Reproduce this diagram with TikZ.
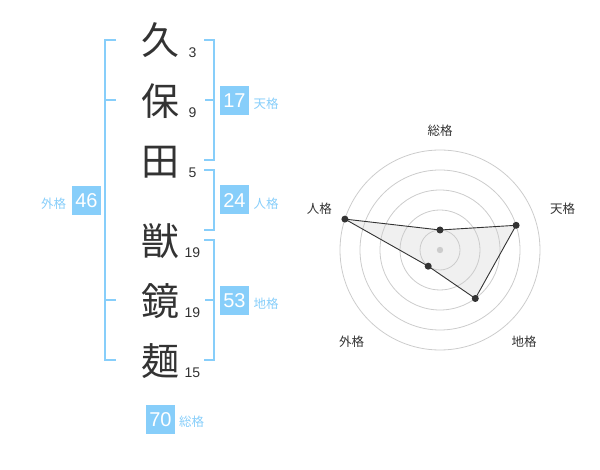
\documentclass[tikz,border=0pt]{standalone}
\usepackage{fontspec}
\setmainfont{Liberation Sans}
\newfontfamily\cjk{Noto Sans CJK JP}
\definecolor{sky}{HTML}{87CEFA}
\definecolor{ink}{HTML}{333333}
\definecolor{ring}{HTML}{CCCCCC}
\definecolor{area}{HTML}{F0F0F0}
\begin{document}
\begin{tikzpicture}[x=1pt,y=-1pt,
  kanji/.style={font=\cjk\fontsize{38}{38}\selectfont, text=ink, anchor=base, inner sep=0pt},
  strokes/.style={font=\fontsize{14}{14}\selectfont, text=ink, anchor=base, inner sep=0pt},
  bracket/.style={draw=sky, line width=2pt},
  scorebox/.style={fill=sky, text=white, minimum size=29pt, inner sep=0pt, font=\fontsize{20}{20}\selectfont, text height=14.3pt, text depth=0pt},
  kaku/.style={font=\cjk\fontsize{12.5}{12.5}\selectfont, text=sky, inner sep=0pt},
  axislabel/.style={font=\cjk\fontsize{12.5}{12.5}\selectfont, text=ink, inner sep=0pt},
  dot/.style={circle, fill=ink, inner sep=0pt, minimum size=7pt},
  ringline/.style={draw=ring, line width=0.8pt},
]
\useasboundingbox (0,0) rectangle (600,470);

% name characters
\node[kanji] (k1) at (160,54.5) {久};
\node[kanji] (k2) at (160,115.3) {保};
\node[kanji] (k3) at (160,175.5) {田};
\node[kanji] (k4) at (160,255.7) {獣};
\node[kanji] (k5) at (160,315.3) {鏡};
\node[kanji] (k6) at (160,375.3) {麺};

% stroke counts
\node[strokes] (s1) at (192.5,57.7) {3};
\node[strokes] (s2) at (192.5,118) {9};
\node[strokes] (s3) at (192.5,177.5) {5};
\node[strokes] (s4) at (192.5,257.7) {19};
\node[strokes] (s5) at (192.5,317.7) {19};
\node[strokes] (s6) at (192.5,377.7) {15};

% brackets
\draw[bracket] (116,40) -- (105,40) -- (105,360) -- (116,360);
\draw[bracket] (105,100) -- (116,100);
\draw[bracket] (105,300) -- (116,300);
\draw[bracket] (204,40) -- (214,40) -- (214,160) -- (204,160);
\draw[bracket] (205,100) -- (214,100);
\draw[bracket] (204,170) -- (214,170) -- (214,230) -- (204,230);
\draw[bracket] (204,240) -- (214,240) -- (214,360) -- (204,360);
\draw[bracket] (205,300) -- (214,300);

% score boxes and labels
\node[scorebox] (ten) at (234.5,100.5) {17};
\node[kaku] (tenl) at (266,104) {天格};
\node[scorebox] (jin) at (234.5,200) {24};
\node[kaku] (jinl) at (266,203.5) {人格};
\node[scorebox] (gai) at (86.5,200.5) {46};
\node[kaku] (gail) at (53.5,203.5) {外格};
\node[scorebox] (chi) at (234.5,300.5) {53};
\node[kaku] (chil) at (266,304) {地格};
\node[scorebox] (sou) at (160.5,419) {70};
\node[kaku] (soul) at (191.5,422) {総格};

% radar chart
\coordinate (c) at (440,250);
\coordinate (pS) at (440,230);
\coordinate (pT) at (516.1,225.3);
\coordinate (pC) at (475.3,298.5);
\coordinate (pG) at (428.2,266.2);
\coordinate (pJ) at (344.9,219.1);
\fill[area] (pS) -- (pT) -- (pC) -- (pG) -- (pJ) -- cycle;
\foreach \r in {20,40,60,80,100} \draw[ringline] (c) circle (\r pt);
\fill[ring] (c) circle (3.2pt);
\draw[ink, line width=0.9pt, line join=round] (pS) -- (pT) -- (pC) -- (pG) -- (pJ) -- cycle;
\node[dot] (dS) at (pS) {};
\node[dot] (dT) at (pT) {};
\node[dot] (dC) at (pC) {};
\node[dot] (dG) at (pG) {};
\node[dot] (dJ) at (pJ) {};
\node[axislabel] (aS) at (440,130.5) {総格};
\node[axislabel] (aT) at (562.5,208.5) {天格};
\node[axislabel] (aJ) at (319.3,209) {人格};
\node[axislabel] (aG) at (351.7,342) {外格};
\node[axislabel] (aC) at (524,342) {地格};
\end{tikzpicture}
\end{document}
